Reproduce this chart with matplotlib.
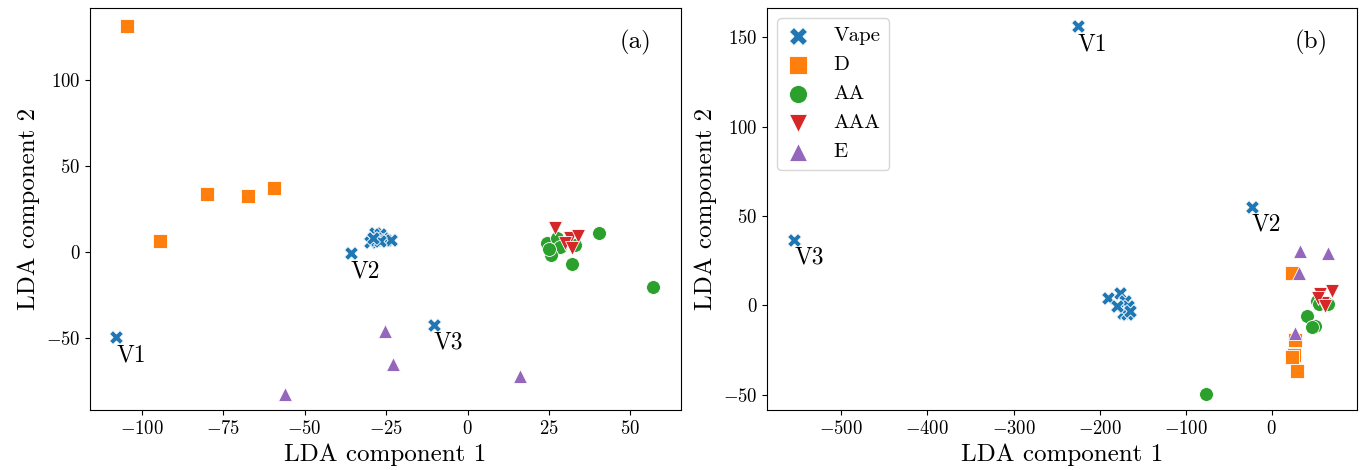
import matplotlib
matplotlib.use("Agg")
import matplotlib.pyplot as plt

plt.rcParams["font.family"] = "serif"
plt.rcParams["font.serif"] = ["cmr10", "DejaVu Serif"]
plt.rcParams["mathtext.fontset"] = "cm"
plt.rcParams["axes.formatter.use_mathtext"] = True

labels = ["Vape", "D", "AA", "AAA", "E"]
colors = ["#1f77b4", "#ff7f0e", "#2ca02c", "#d62728", "#9467bd"]
markers = ["X", "s", "o", "v", "^"]

# panel (a)
a_vape_x = [-107.9, -35.9, -10.3, -28.5, -27, -30, -28, -26, -25, -23.5, -27, -29]
a_vape_y = [-49.6, -0.8, -42.4, 11, 10.5, 6, 7, 8, 7, 7, 6.5, 8]
a_d_x = [-104.6, -94.5, -80, -67.6, -59.6]
a_d_y = [131.4, 6.6, 33.5, 32.7, 37.4]
a_aa_x = [24.3, 26.3, 27.4, 28.4, 25.8, 25, 33, 32, 40.4, 57]
a_aa_y = [5, 1.2, 8, 3.1, -1.7, 2, 4, -7, 11.2, -20.5]
a_aaa_x = [26.8, 31.4, 34, 29.9, 32]
a_aaa_y = [13.8, 8.0, 9.3, 5, 2.1]
a_e_x = [-56.2, -25.4, -22.9, 16.1]
a_e_y = [-82.6, -45.9, -65.3, -72.1]
a_tags = {"V1": (-107.9, -49.6), "V2": (-35.9, -0.8), "V3": (-10.3, -42.4)}

# panel (b)
b_vape_x = [-225.2, -23.1, -554.7, -190, -176.4, -170.6, -166.9, -172.6, -168.7, -180.3, -164.9]
b_vape_y = [156.2, 55.3, 36.9, 4.2, 7.1, 2.5, -0.3, -4.1, -5, -0.3, -3.1]
b_d_x = [23, 26.8, 25.7, 24, 28.8]
b_d_y = [18.4, -19.6, -27.8, -29, -36.8]
b_aa_x = [52, 65.5, 41.1, 50, 47, 55, -76.5]
b_aa_y = [2.5, 0.7, -5.9, -11.5, -12, 1, -49.7]
b_aaa_x = [55.9, 69.4, 59.7, 53.9, 61.7]
b_aaa_y = [6.3, 8.1, 1.6, 4.4, -0.3]
b_e_x = [32.6, 65.5, 31.5, 26.8]
b_e_y = [30.6, 29.1, 18.4, -15.3]
b_tags = {"V1": (-225.2, 156.2), "V2": (-23.1, 55.3), "V3": (-554.7, 36.9)}

fig = plt.figure(figsize=(13.64, 4.70), dpi=100)
ax1 = fig.add_axes([90 / 1364, 60 / 470, 591 / 1364, 402 / 470])
ax2 = fig.add_axes([767 / 1364, 60 / 470, 590 / 1364, 402 / 470])

panels = [
    (ax1, [(a_vape_x, a_vape_y), (a_d_x, a_d_y), (a_aa_x, a_aa_y), (a_aaa_x, a_aaa_y), (a_e_x, a_e_y)], a_tags, "(a)"),
    (ax2, [(b_vape_x, b_vape_y), (b_d_x, b_d_y), (b_aa_x, b_aa_y), (b_aaa_x, b_aaa_y), (b_e_x, b_e_y)], b_tags, "(b)"),
]

for ax, series, tags, name in panels:
    for (xs, ys), lab, c, m in zip(series, labels, colors, markers):
        ax.scatter(xs, ys, s=100, c=c, marker=m, edgecolors="white", linewidths=0.6, label=lab)
    for t, (x, y) in tags.items():
        ax.annotate(t, (x, y), xytext=(0, -5), textcoords="offset points",
                    ha="left", va="top", fontsize=17)
    ax.text(0.95, 0.915, name, transform=ax.transAxes, ha="right", va="center", fontsize=18)
    ax.set_xlabel("LDA component 1", fontsize=18)
    ax.set_ylabel("LDA component 2", fontsize=18)
    ax.tick_params(labelsize=13.5)

ax1.set_xlim(-116, 65.6)
ax1.set_ylim(-92, 142)
ax1.set_xticks([-100, -75, -50, -25, 0, 25, 50])
ax1.set_yticks([-50, 0, 50, 100])
ax2.set_xlim(-586.4, 99)
ax2.set_ylim(-58.5, 166.5)
ax2.set_xticks([-500, -400, -300, -200, -100, 0])
ax2.set_yticks([-50, 0, 50, 100, 150])

ax2.legend(loc="upper left", fontsize=15, markerscale=1.3,
           handlelength=1.2, handletextpad=1.1)

fig.savefig("out.png", dpi=100)
